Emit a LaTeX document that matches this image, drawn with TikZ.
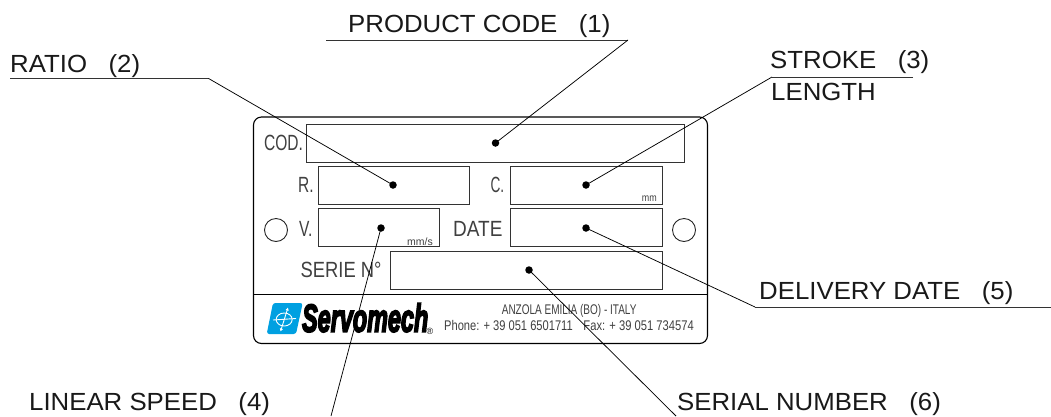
\documentclass[tikz,border=0pt]{standalone}
\usepackage{fontspec}
\usetikzlibrary{arrows.meta}
\setmainfont{Liberation Sans}
\newfontfamily\logof{Liberation Sans}[BoldItalicFeatures={FakeBold=5}]
\definecolor{logoblue}{RGB}{0,160,225}
\tikzset{
  x=1pt,y=-1pt,
  leader/.style={draw=black,line width=0.75pt},
  rulel/.style={draw=black!80,line width=0.95pt},
  boxs/.style={draw=black!80,line width=1pt},
  lab/.style={font=\fontsize{24.8}{27}\selectfont,xscale=1.04,anchor=base west,inner sep=0pt,text=black!90},
  plt/.style={inner sep=0pt,text=black!75},
  pltb/.style={plt,font=\fontsize{22}{24}\selectfont,anchor=base west},
  dotm/.style={circle,fill=black,inner sep=0pt,minimum size=7.5pt},
}
\begin{document}
\begin{tikzpicture}
\useasboundingbox[fill=white] (0,0) rectangle (1051,416);
% plate
\draw[black,line width=1.1pt,rounded corners=8pt] (253.5,117) rectangle (707.5,343.5);
\coordinate (pl) at (253.5,294); \coordinate (pr) at (707.5,294);
\draw[black,line width=1pt] (pl) -- (pr);
% fields
\draw[boxs] (306.5,124) rectangle (684,162);
\draw[boxs] (318,166) rectangle (469,204);
\draw[boxs] (510,166) rectangle (662,204);
\draw[boxs] (318,208) rectangle (439,246);
\draw[boxs] (510,208) rectangle (662,246);
\draw[boxs] (390,251) rectangle (662,289);
\draw[black!85,line width=0.9pt] (276,230) circle (11.5);
\draw[black!85,line width=0.9pt] (684,230) circle (11.5);
% plate texts
\node[pltb,xscale=.706] (tcod) at (264,150.7) {COD.};
\node[pltb,xscale=.706] (tr) at (298,192) {R.};
\node[pltb,xscale=.62] (tc) at (490.5,192.5) {C.};
\node[pltb,xscale=.706] (tv) at (299,236) {V.};
\node[pltb,xscale=.864] (td) at (453,236) {DATE};
\node[pltb,xscale=.835] (ts) at (300.5,277.7) {SERIE N°};
\node[plt,font=\fontsize{10.5}{11}\selectfont,anchor=base east] (tmms) at (433,245) {mm/s};
\node[plt,font=\fontsize{10.5}{11}\selectfont,xscale=.85,anchor=base east] (tmm) at (657,201.7) {mm};
% logo
\fill[logoblue,rounded corners=2.5pt] (273,303) -- (302.7,303) -- (296,334) -- (266.7,334) -- cycle;
\draw[white,line width=.9pt,{Latex[length=3pt,width=3.5pt]}-{Latex[length=3pt,width=3.5pt]}] (288,307.5) -- (280.5,331.5);
\draw[white,line width=.9pt] (284.2,319.5) ellipse (8 and 6.5);
\draw[white,line width=.9pt] (273,320) -- (296,318.5);
\node[font=\logof\fontsize{39}{40}\selectfont\bfseries\itshape,xscale=.6,anchor=base west,inner sep=0pt] (lg) at (302,331.7) {Servomech};
\node[font=\fontsize{9}{10}\selectfont,anchor=base west,inner sep=0pt] (rg) at (426.5,334.5) {®};
\node[plt,font=\fontsize{14}{15}\selectfont,xscale=.714,anchor=base west] (addr) at (501.7,314.3) {ANZOLA EMILIA (BO) - ITALY};
\node[plt,font=\fontsize{14}{15}\selectfont,xscale=.795,anchor=base west] (ph) at (444,330) {Phone: + 39 051 6501711};
\node[plt,font=\fontsize{14}{15}\selectfont,xscale=.8,anchor=base west] (fx) at (583.3,330) {Fax: + 39 051 734574};
% dots
\node[dotm] (d1) at (495.5,143) {};
\node[dotm] (d2) at (393,185) {};
\node[dotm] (d3) at (586,185) {};
\node[dotm] (d4) at (381,228) {};
\node[dotm] (d5) at (586,228) {};
\node[dotm] (d6) at (529,270) {};
% labels
\node[lab] (l1) at (348,32) {PRODUCT CODE\ \ \ (1)};
\node[lab] (l2) at (10,72) {RATIO\ \ \ (2)};
\node[lab] (l3) at (770,68) {STROKE\ \ \ (3)};
\node[lab] (l3b) at (771,100) {LENGTH};
\node[lab] (l4) at (29,410.7) {LINEAR SPEED\ \ \ (4)};
\node[lab] (l5) at (759,299) {DELIVERY DATE\ \ \ (5)};
\node[lab] (l6) at (677,410.7) {SERIAL NUMBER\ \ \ (6)};
% leaders
\coordinate (a1) at (326,40); \coordinate (b1) at (628,40);
\coordinate (a2) at (10,78.5); \coordinate (b2) at (208.6,78.5);
\coordinate (a3) at (772,77); \coordinate (b3) at (913,77);
\coordinate (a4) at (331,416);
\coordinate (a5) at (755,307); \coordinate (b5) at (1051,307);
\coordinate (a6) at (676,416);
\draw[rulel] (a1) -- (b1); \draw[leader] (b1) -- (d1.center);
\draw[rulel] (a2) -- (b2); \draw[leader] (b2) -- (d2.center);
\draw[rulel] (b3) -- (a3); \draw[leader] (a3) -- (d3.center);
\draw[leader] (a4) -- (d4.center);
\draw[rulel] (b5) -- (a5); \draw[leader] (a5) -- (d5.center);
\draw[leader] (a6) -- (d6.center);
\end{tikzpicture}
\end{document}
